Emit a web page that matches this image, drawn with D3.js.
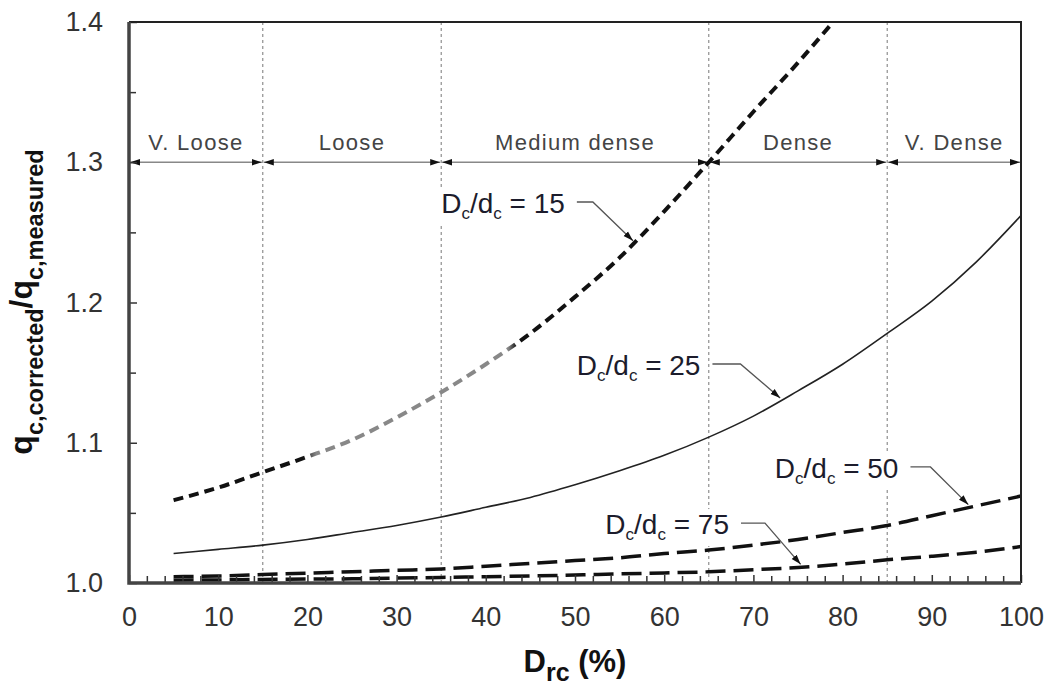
<!DOCTYPE html>
<html>
<head>
<meta charset="utf-8">
<script src="https://cdn.jsdelivr.net/npm/d3@7"></script>
<style>
  body { margin: 0; background: #fff; }
  svg { font-family: 'Liberation Sans', Arial, sans-serif; }
</style>
</head>
<body>
<script>
// relative density zones
const zoneEdges = [0, 15, 35, 65, 85, 100]
const zoneNames = ['V. Loose', 'Loose', 'Medium dense', 'Dense', 'V. Dense']

// Drc (%) sample points
const drc = [5, 10, 15, 20, 25, 30, 35, 40, 45, 50, 55, 60, 65, 70, 75, 80, 85, 90, 95, 100]

// qc,corrected / qc,measured for each Dc/dc ratio
const ratio15 = [1.059, 1.068, 1.079, 1.090, 1.102, 1.118, 1.136, 1.156, 1.178, 1.204,
  1.232, 1.265, 1.300, 1.336, 1.371, 1.408]
const ratio25 = [1.021, 1.024, 1.027, 1.031, 1.036, 1.041, 1.047, 1.054, 1.061, 1.070,
  1.080, 1.091, 1.104, 1.119, 1.137, 1.156, 1.178, 1.201, 1.229, 1.262]
const ratio50 = [1.0045, 1.005, 1.006, 1.007, 1.008, 1.009, 1.010, 1.012, 1.014, 1.016,
  1.018, 1.021, 1.0235, 1.027, 1.031, 1.036, 1.041, 1.048, 1.055, 1.062]
const ratio75 = [1.002, 1.0022, 1.0025, 1.0028, 1.003, 1.0035, 1.004, 1.0045, 1.005, 1.0057,
  1.0065, 1.0072, 1.008, 1.0095, 1.011, 1.0135, 1.0165, 1.019, 1.022, 1.026]

const xTicks = [0, 10, 20, 30, 40, 50, 60, 70, 80, 90, 100]
const yTicks = [1.0, 1.1, 1.2, 1.3, 1.4]

const width = 1049
const height = 687
const margin = { top: 22, right: 28, bottom: 104, left: 129 }

const x = d3.scaleLinear().domain([0, 100]).range([margin.left, width - margin.right])
const y = d3.scaleLinear().domain([1.0, 1.4]).range([height - margin.bottom, margin.top])

const svg = d3.select('body').append('svg')
  .attr('width', width)
  .attr('height', height)

const defs = svg.append('defs')
defs.append('clipPath').attr('id', 'plot')
  .append('rect')
  .attr('x', x(0)).attr('y', y(1.4))
  .attr('width', x(100) - x(0)).attr('height', y(1.0) - y(1.4))

defs.append('marker')
  .attr('id', 'head')
  .attr('viewBox', '0 0 10 8')
  .attr('refX', 10).attr('refY', 4)
  .attr('markerWidth', 10).attr('markerHeight', 8)
  .attr('markerUnits', 'userSpaceOnUse')
  .attr('orient', 'auto-start-reverse')
  .append('path')
  .attr('d', 'M0,0.8 L10,4 L0,7.2 Z')
  .attr('fill', '#111')

// gray patch on the Dc/dc = 15 curve
const grad = defs.append('linearGradient')
  .attr('id', 'fade15')
  .attr('gradientUnits', 'userSpaceOnUse')
  .attr('x1', x(0)).attr('x2', x(100)).attr('y1', 0).attr('y2', 0)
;[[0, '#111'], [0.195, '#111'], [0.21, '#888'], [0.425, '#888'], [0.435, '#111'], [1, '#111']]
  .forEach(([o, c]) => grad.append('stop').attr('offset', o).attr('stop-color', c))

// vertical zone boundaries
svg.append('g')
  .selectAll('line')
  .data(zoneEdges.slice(1, -1))
  .join('line')
  .attr('x1', (d) => x(d)).attr('x2', (d) => x(d))
  .attr('y1', y(1.4)).attr('y2', y(1.0))
  .attr('stroke', '#777')
  .attr('stroke-width', 1)
  .attr('stroke-dasharray', '3,3')

// zone arrows + labels
const zones = zoneNames.map((name, i) => ({ name, a: zoneEdges[i], b: zoneEdges[i + 1] }))
svg.append('g')
  .selectAll('line')
  .data(zones)
  .join('line')
  .attr('x1', (d) => x(d.a) + 1).attr('x2', (d) => x(d.b) - 1)
  .attr('y1', y(1.3)).attr('y2', y(1.3))
  .attr('stroke', '#888')
  .attr('stroke-width', 1.5)
  .attr('marker-start', 'url(#head)')
  .attr('marker-end', 'url(#head)')

svg.append('g')
  .selectAll('text')
  .data(zones)
  .join('text')
  .attr('x', (d) => x((d.a + d.b) / 2))
  .attr('y', y(1.3) - 12)
  .attr('text-anchor', 'middle')
  .attr('font-size', 22)
  .attr('letter-spacing', 1.3)
  .attr('fill', '#444')
  .text((d) => d.name)

// curves
const line = d3.line()
  .x((d) => x(d[0]))
  .y((d) => y(d[1]))
  .curve(d3.curveMonotoneX)

const series = [
  { ratio: 15, values: ratio15, stroke: 'url(#fade15)', width: 4, dash: '10,6' },
  { ratio: 25, values: ratio25, stroke: '#222', width: 1.6, dash: null },
  { ratio: 50, values: ratio50, stroke: '#111', width: 3.5, dash: '20,8' },
  { ratio: 75, values: ratio75, stroke: '#111', width: 3.5, dash: '20,8' }
]

svg.append('g')
  .attr('clip-path', 'url(#plot)')
  .selectAll('path')
  .data(series)
  .join('path')
  .attr('d', (s) => line(s.values.map((v, i) => [drc[i], v])))
  .attr('fill', 'none')
  .attr('stroke', (s) => s.stroke)
  .attr('stroke-width', (s) => s.width)
  .attr('stroke-dasharray', (s) => s.dash)

// axes
const yMinor = [1.05, 1.15, 1.25, 1.35]
svg.append('g')
  .attr('transform', `translate(${x(0)},0)`)
  .call(d3.axisLeft(y).tickValues(yTicks).tickFormat(d3.format('.1f')).tickSize(-8).tickPadding(26))
  .call((g) => g.select('.domain').remove())
  .call((g) => g.selectAll('text').attr('font-size', 27).attr('fill', '#333').attr('font-family', null))
  .call((g) => g.selectAll('line').attr('stroke', '#333').attr('stroke-width', 1.5))
svg.append('g')
  .attr('transform', `translate(${x(0)},0)`)
  .call(d3.axisLeft(y).tickValues(yMinor).tickFormat('').tickSize(-7))
  .call((g) => g.select('.domain').remove())
  .call((g) => g.selectAll('line').attr('stroke', '#333').attr('stroke-width', 1.5))

svg.append('g')
  .attr('transform', `translate(0,${y(1.0)})`)
  .call(d3.axisBottom(x).tickValues(xTicks).tickSize(-8).tickPadding(24))
  .call((g) => g.select('.domain').remove())
  .call((g) => g.selectAll('text').attr('font-size', 27).attr('fill', '#333').attr('font-family', null))
  .call((g) => g.selectAll('line').attr('stroke', '#333').attr('stroke-width', 1.5))
svg.append('g')
  .attr('transform', `translate(0,${y(1.0)})`)
  .call(d3.axisBottom(x).tickValues(d3.range(2, 100, 2).filter((d) => d % 10 !== 0)).tickFormat('').tickSize(-7))
  .call((g) => g.select('.domain').remove())
  .call((g) => g.selectAll('line').attr('stroke', '#333').attr('stroke-width', 1.5))

// frame
svg.append('path')
  .attr('d', `M${x(0)},${y(1.4)}H${x(100)}V${y(1.0)}`)
  .attr('fill', 'none')
  .attr('stroke', '#222')
  .attr('stroke-width', 2)
svg.append('path')
  .attr('d', `M${x(100)},${y(1.0)}H${x(0)}V${y(1.4)}`)
  .attr('fill', 'none')
  .attr('stroke', '#444')
  .attr('stroke-width', 3.5)

// curve labels with leaders (text position and arrow tip in data units)
const notes = [
  { ratio: 15, tx: 35.0, ty: 1.2638, tip: 56.5, run: 16 },
  { ratio: 25, tx: 50.2, ty: 1.1483, tip: 73.0, run: 28 },
  { ratio: 50, tx: 72.4, ty: 1.0749, tip: 94.1, run: 20 },
  { ratio: 75, tx: 53.4, ty: 1.0349, tip: 75.3, run: 24 }
]

const valueAt = (s, xv) => {
  const pts = s.values.map((v, i) => [drc[i], v])
  for (let i = 1; i < pts.length; i++) {
    if (xv <= pts[i][0]) {
      const t = (xv - pts[i - 1][0]) / (pts[i][0] - pts[i - 1][0])
      return pts[i - 1][1] + t * (pts[i][1] - pts[i - 1][1])
    }
  }
  return pts[pts.length - 1][1]
}

notes.forEach((n) => {
  const s = series.find((d) => d.ratio === n.ratio)
  const g = svg.append('g')
  const bg = g.append('rect').attr('fill', '#fff')
  const t = g.append('text')
    .attr('x', x(n.tx))
    .attr('y', y(n.ty))
    .attr('font-size', 28)
    .attr('fill', '#1c1c2c')
  t.append('tspan').text('D')
  t.append('tspan').attr('font-size', 17).attr('dy', 6).text('c')
  t.append('tspan').attr('dy', -6).text('/d')
  t.append('tspan').attr('font-size', 17).attr('dy', 6).text('c')
  t.append('tspan').attr('dy', -6).text(` = ${n.ratio}`)
  const bb = t.node().getBBox()
  bg.attr('x', bb.x - 3).attr('y', bb.y).attr('width', bb.width + 6).attr('height', bb.height + 2)

  const x0 = bb.x + bb.width + 12
  const ly = y(n.ty) - 11
  const tipX = x(n.tip)
  const tipY = y(valueAt(s, n.tip)) - 3
  g.append('path')
    .attr('d', `M${x0},${ly}H${x0 + n.run}L${tipX},${tipY}`)
    .attr('fill', 'none')
    .attr('stroke', '#555')
    .attr('stroke-width', 1.3)
    .attr('marker-end', 'url(#head)')
})

// axis titles
const yTitle = svg.append('text')
  .attr('transform', `translate(32,${302}) rotate(-90)`)
  .attr('text-anchor', 'middle')
  .attr('font-weight', 'bold')
  .attr('font-size', 32)
  .attr('fill', '#111')
yTitle.append('tspan').text('q')
yTitle.append('tspan').attr('font-size', 23.5).attr('dy', 11).text('c,corrected')
yTitle.append('tspan').attr('dy', -11).text('/q')
yTitle.append('tspan').attr('font-size', 23.5).attr('dy', 11).text('c,measured')

const xTitle = svg.append('text')
  .attr('x', x(50))
  .attr('y', 672)
  .attr('text-anchor', 'middle')
  .attr('font-weight', 'bold')
  .attr('font-size', 31)
  .attr('fill', '#111')
xTitle.append('tspan').text('D')
xTitle.append('tspan').attr('font-size', 25).attr('dy', 9).text('rc')
xTitle.append('tspan').attr('dy', -9).text(' (%)')
</script>
</body>
</html>
